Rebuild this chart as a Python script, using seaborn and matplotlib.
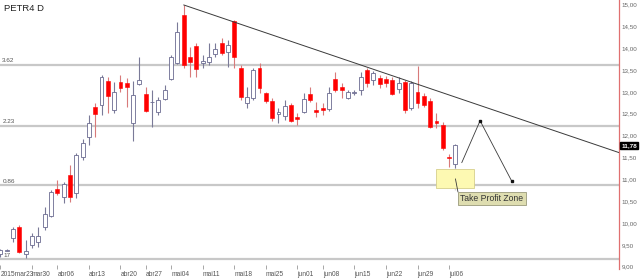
import numpy as np
import pandas as pd
import matplotlib
matplotlib.use("Agg")
import matplotlib.pyplot as plt
import seaborn as sns
from matplotlib.patches import Rectangle
from matplotlib.ticker import FuncFormatter, FixedLocator

# ---------------- data ----------------
holidays = ["2015-04-03", "2015-04-21", "2015-05-01", "2015-06-04"]
dates = [d.strftime("%Y-%m-%d") for d in pd.bdate_range("2015-03-23", "2015-07-07")
         if d.strftime("%Y-%m-%d") not in holidays]

opens = [9.29, 9.37, 9.66, 9.91, 9.29, 9.50, 9.56, 9.91, 10.16, 10.78,
         10.60, 11.10, 10.69, 11.51, 11.97, 12.65, 12.70, 13.25, 12.59, 13.23,
         13.20, 12.29, 13.18, 12.95, 12.76, 12.54, 12.84, 13.30, 13.66, 14.76,
         13.80, 14.05, 13.66, 13.69, 13.87, 14.12, 13.91, 14.62, 13.55, 12.75,
         12.86, 13.55, 12.98, 12.79, 12.49, 12.45, 12.70, 12.43, 12.54, 12.95,
         12.58, 12.63, 12.61, 13.30, 13.11, 12.86, 12.97, 13.04, 13.50, 13.27,
         13.32, 13.30, 13.27, 13.06, 13.23, 12.63, 13.00, 12.91, 12.79, 12.33,
         12.24, 11.50, 11.35]
highs = [9.40, 9.40, 9.91, 9.95, 9.61, 9.77, 9.91, 10.37, 10.76, 10.98,
         10.94, 11.33, 11.60, 11.92, 12.47, 12.75, 13.39, 13.34, 13.23, 13.39,
         13.32, 13.25, 13.80, 13.11, 13.04, 12.88, 13.16, 13.85, 14.60, 14.99,
         14.03, 14.12, 13.85, 14.12, 14.12, 14.23, 14.19, 14.65, 13.62, 13.11,
         13.55, 13.66, 13.00, 12.86, 12.63, 12.82, 12.75, 12.52, 12.98, 13.11,
         12.77, 12.75, 13.11, 13.46, 13.20, 13.04, 13.04, 13.46, 13.55, 13.48,
         13.39, 13.36, 13.34, 13.34, 13.27, 13.25, 13.60, 12.98, 12.86, 12.52,
         12.31, 11.58, 11.80]
lows = [9.22, 9.35, 9.57, 9.31, 9.20, 9.43, 9.45, 9.84, 10.14, 10.64,
        10.46, 10.48, 10.57, 11.45, 11.79, 11.97, 12.47, 12.52, 12.52, 13.00,
        12.65, 11.88, 13.16, 12.54, 12.20, 12.47, 12.81, 13.27, 13.64, 13.55,
        13.34, 13.34, 13.55, 13.62, 13.80, 13.85, 13.57, 13.55, 12.81, 12.63,
        12.81, 12.98, 12.75, 12.33, 12.29, 12.36, 12.31, 12.24, 12.52, 12.77,
        12.43, 12.47, 12.56, 13.00, 12.86, 12.84, 12.93, 12.93, 13.11, 13.16,
        13.09, 13.11, 12.93, 12.98, 12.52, 12.59, 12.63, 12.65, 12.17, 12.17,
        11.67, 11.28, 11.26]
closes = [9.38, 9.38, 9.86, 9.34, 9.36, 9.70, 9.70, 10.21, 10.71, 10.69,
          10.89, 10.60, 11.56, 11.83, 12.29, 12.49, 13.34, 12.91, 13.00, 13.09,
          13.11, 12.93, 13.27, 12.56, 12.78, 12.82, 13.04, 13.80, 14.37, 13.62,
          13.69, 13.52, 13.71, 13.80, 13.98, 13.89, 14.07, 13.80, 12.88, 12.88,
          13.50, 13.09, 12.79, 12.40, 12.54, 12.68, 12.33, 12.38, 12.84, 12.82,
          12.55, 12.59, 12.98, 13.04, 13.04, 13.00, 12.99, 13.34, 13.20, 13.43,
          13.18, 13.20, 12.95, 13.20, 12.59, 13.20, 12.75, 12.70, 12.20, 12.29,
          11.71, 11.48, 11.78]

tick_dates = ["2015-03-23", "2015-03-30", "2015-04-06", "2015-04-13", "2015-04-20",
              "2015-04-27", "2015-05-04", "2015-05-11", "2015-05-18", "2015-05-25",
              "2015-06-01", "2015-06-08", "2015-06-15", "2015-06-22", "2015-06-29",
              "2015-07-06"]
tick_labels = ["2015mar23", "mar30", "abr06", "abr13", "abr20", "abr27", "mai04",
               "mai11", "mai18", "mai25", "jun01", "jun08", "jun15", "jun22",
               "jun29", "jul06"]

levels = [13.62, 12.23, 10.86, 9.17]
level_labels = ["3.62", "2.23", "0.86", "17"]
y_ticks = [9.0, 9.5, 10.0, 10.5, 11.0, 11.5, 12.0, 12.5, 13.0, 13.5, 14.0, 14.5, 15.0]
last_price = 11.78

trend_x = [29, 98]
trend_y = [14.99, 11.605]
proj_x = [73.0, 75.9, 80.9]
proj_y = [11.38, 12.34, 10.96]
zone_x = [68.9, 75.0]
zone_y = [10.79, 11.23]
callout_x = [72.0, 72.0, 72.4]
callout_y = [11.26, 10.76, 10.71]
label_box_x = [72.4, 83.1]
label_box_y = [10.41, 10.71]
title = "PETR4 D"
zone_text = "Take Profit Zone"

# ---------------- style ----------------
sns.set_style("white")
plt.rcParams["font.family"] = ["Liberation Sans", "DejaVu Sans"]

df = pd.DataFrame({"date": dates, "open": opens, "high": highs,
                   "low": lows, "close": closes})
df["idx"] = np.arange(len(df))
up = df[df["close"] >= df["open"]]
dn = df[df["close"] < df["open"]]

fig = plt.figure(figsize=(6.4, 2.79), dpi=100)
fig.patch.set_facecolor("white")
ax = fig.add_axes([0, 10 / 279, 619 / 640, 269 / 279])
ax.set_facecolor("white")

# support / resistance lines
for lv, lb in zip(levels, level_labels):
    ax.axhline(lv, color="#c8c8c8", lw=1.6, zorder=1)
    ax.text(0.3 if lb != "17" else 0.45, lv + 0.035, lb, fontsize=4.6,
            color="#555555", va="bottom", ha="left", zorder=6)

# candles: wicks
ax.vlines(up["idx"], up["low"], up["high"], color="#7a7a98", lw=0.8, zorder=2)
ax.vlines(dn["idx"], dn["low"], dn["high"], color="#d87a7a", lw=0.8, zorder=2)
# candles: bodies
ax.bar(up["idx"], np.maximum(up["close"] - up["open"], 0.012), bottom=up["open"],
       width=0.62, color="white", edgecolor="#6a6a90", linewidth=0.6, zorder=3)
ax.bar(dn["idx"], dn["open"] - dn["close"], bottom=dn["close"],
       width=0.62, color="#ff0000", edgecolor="#ff0000", linewidth=0.4, zorder=3)

# trend line
sns.lineplot(x=trend_x, y=trend_y, ax=ax, color="#3a3a3a", lw=0.7, zorder=4)

# take profit zone
ax.add_patch(Rectangle((zone_x[0], zone_y[0]), zone_x[1] - zone_x[0],
                       zone_y[1] - zone_y[0], facecolor="#fdf9b2",
                       edgecolor="#d6cf8c", lw=0.6, zorder=2.5))

# projection path
sns.lineplot(x=proj_x, y=proj_y, ax=ax, sort=False, color="#3a3a3a", lw=0.6, zorder=4)
ax.plot(proj_x[1:], proj_y[1:], ls="none", marker="s", ms=1.6, color="#111111", zorder=5)

# callout
sns.lineplot(x=callout_x, y=callout_y, ax=ax, sort=False, color="#3a3a3a", lw=0.6, zorder=4)
ax.add_patch(Rectangle((label_box_x[0], label_box_y[0]), label_box_x[1] - label_box_x[0],
                       label_box_y[1] - label_box_y[0], facecolor="#deddb0",
                       edgecolor="#9a9a7a", lw=0.6, zorder=5))
ax.text((label_box_x[0] + label_box_x[1]) / 2, (label_box_y[0] + label_box_y[1]) / 2,
        zone_text, fontsize=6.2, color="#333333", ha="center", va="center", zorder=6)

# title
ax.text(4 / 619, 1 - 4 / 269, title, transform=ax.transAxes, fontsize=6.8,
        color="#222222", ha="left", va="top")

# axes
ax.set_xlim(-0.063, 97.88)
ax.set_ylim(8.947, 15.103)
tick_pos = [dates.index(d) for d in tick_dates]
ax.xaxis.set_major_locator(FixedLocator(tick_pos))
ax.set_xticklabels(tick_labels, ha="left")
ax.tick_params(axis="x", direction="in", length=3, width=0.6, color="#999999",
               labelsize=4.8, labelcolor="#555555", pad=1.5, bottom=True)
ax.yaxis.tick_right()
ax.yaxis.set_major_locator(FixedLocator(y_ticks))
ax.yaxis.set_major_formatter(FuncFormatter(lambda v, p: f"{v:.2f}".replace(".", ",")))
ax.tick_params(axis="y", length=0, labelsize=4.5, labelcolor="#666666", pad=2)
for s in ["top", "left", "bottom"]:
    ax.spines[s].set_visible(False)
ax.spines["right"].set_color("#e07070")
ax.spines["right"].set_linewidth(0.9)
ax.set_xlabel("")
ax.set_ylabel("")

# last price tag
ax.annotate(f"{last_price:.2f}".replace(".", ","), xy=(1.0, last_price),
            xycoords=("axes fraction", "data"), xytext=(1.5, 0), textcoords="offset points",
            fontsize=4.6, color="white", fontweight="bold", ha="left", va="center",
            bbox=dict(boxstyle="square,pad=0.15", fc="black", ec="black"),
            annotation_clip=False, zorder=10)

fig.savefig("out.png", dpi=100)
